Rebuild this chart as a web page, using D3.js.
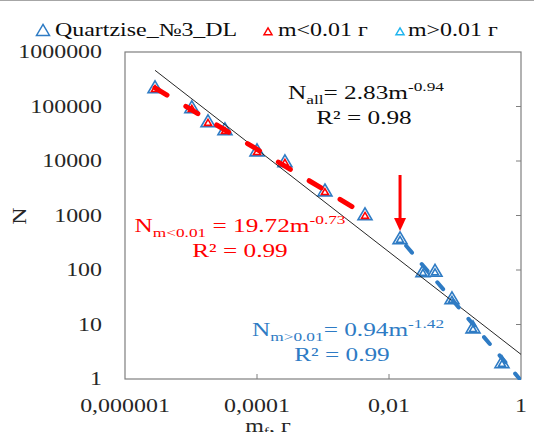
<!DOCTYPE html>
<html lang="en">
<head>
	<meta charset="utf-8">
	<title>Quartzise N vs m</title>
	<script src="https://cdn.jsdelivr.net/npm/d3@7"></script>
	<style>
		body { margin: 0; background: #fff; }
		text { font-family: "Liberation Serif", "Times New Roman", serif; }
	</style>
</head>
<body>
	<script>
	// data
	var massAll = [2.85e-6, 1.03e-5, 1.81e-5, 3.27e-5, 1.0e-4, 2.65e-4, 1.07e-3, 4.33e-3,
		0.0147, 0.0327, 0.0498, 0.090, 0.1875, 0.515];
	var countAll = [218000, 93800, 52000, 37000, 15200, 9600, 2800, 1020,
		371, 92, 94, 29.4, 8.6, 1.97];
	var massSmall = massAll.slice(0, 8);   // m < 0.01
	var countSmall = countAll.slice(0, 8);
	var massBig = massAll.slice(8);        // m > 0.01
	var countBig = countAll.slice(8);

	// power fits N = a * m^b
	var fitAll = [2.83, -0.94];
	var fitSmall = [19.72, -0.73];
	var fitBig = [0.94, -1.42];

	var xTicks = [1e-6, 1e-4, 1e-2, 1];
	var xTickLabels = ["0,000001", "0,0001", "0,01", "1"];
	var yTicks = [1, 10, 100, 1000, 10000, 100000, 1000000];
	var yTickLabels = ["1", "10", "100", "1000", "10000", "100000", "1000000"];

	var w = 534, h = 432;
	var pLeft = 125, pRight = 521, pTop = 52, pBottom = 379;
	var SX = 1.33; // text in the picture is stretched sideways

	var blue = "#2e7bc4", red = "#ff0000", light = "#1fb4ee";

	var svg = d3.select("body").append("svg")
		.attr("width", w).attr("height", h);

	var x = d3.scaleLog().domain([1e-6, 1]).range([pLeft, pRight]);
	var y = d3.scaleLog().domain([1, 1e6]).range([pBottom, pTop]);

	// helper: stretched text
	function label(parent, px, py, anchor) {
		return parent.append("g")
			.attr("transform", "translate(" + px + "," + py + ") scale(" + SX + ",1)")
			.append("text").attr("text-anchor", anchor || "start");
	}

	// outer chart border line
	svg.append("line").attr("x1", 0).attr("x2", w).attr("y1", 0.5).attr("y2", 0.5)
		.attr("stroke", "#a6a6a6");

	svg.append("clipPath").attr("id", "plot").append("rect")
		.attr("x", pLeft).attr("y", pTop).attr("width", pRight - pLeft).attr("height", pBottom - pTop + 1);

	// plot frame
	svg.append("rect")
		.attr("x", pLeft).attr("y", pTop).attr("width", pRight - pLeft).attr("height", pBottom - pTop)
		.attr("fill", "none").attr("stroke", "#7f7f7f").attr("stroke-width", 1.2);

	// x ticks (inside, bottom)
	svg.selectAll(".xt").data(xTicks.slice(1, 3)).enter().append("line")
		.attr("x1", function(d) { return x(d); }).attr("x2", function(d) { return x(d); })
		.attr("y1", pBottom).attr("y2", pBottom - 5)
		.attr("stroke", "#7f7f7f");

	// y ticks (inside, right)
	svg.selectAll(".yt").data(yTicks.slice(1, 6)).enter().append("line")
		.attr("x1", pRight).attr("x2", pRight - 5)
		.attr("y1", function(d) { return y(d); }).attr("y2", function(d) { return y(d); })
		.attr("stroke", "#7f7f7f");

	// tick labels
	xTicks.forEach(function(d, i) {
		label(svg, x(d), 412, "middle").attr("font-size", 18).attr("fill", "#262626").text(xTickLabels[i]);
	});
	yTicks.forEach(function(d, i) {
		label(svg, 102, y(d) + 6, "end").attr("font-size", 18).attr("fill", "#262626").text(yTickLabels[i]);
	});

	// axis titles
	svg.append("g").attr("transform", "translate(26,216) rotate(-90) scale(" + SX + ",1)")
		.append("text").attr("text-anchor", "middle").attr("font-size", 18).attr("fill", "#262626").text("N");
	var xt = label(svg, 268, 432, "middle").attr("font-size", 18).attr("fill", "#262626");
	xt.append("tspan").text("m");
	xt.append("tspan").attr("font-size", 12).attr("dy", 4).text("f");
	xt.append("tspan").attr("dy", -4).text(", г");

	// markers
	function tri(s) {
		var hh = s * 0.85;
		return "M0," + (-hh * 0.6) + "L" + (s / 2) + "," + (hh * 0.4) + "L" + (-s / 2) + "," + (hh * 0.4) + "Z";
	}
	var pts = massAll.map(function(m, i) { return { m: m, n: countAll[i] }; });
	var g = svg.append("g");
	g.selectAll(".outer").data(pts).enter().append("path")
		.attr("d", tri(14))
		.attr("transform", function(d) { return "translate(" + x(d.m) + "," + y(d.n) + ")"; })
		.attr("fill", "#fff").attr("stroke", blue).attr("stroke-width", 1.6);
	g.selectAll(".small").data(massSmall).enter().append("path")
		.attr("d", tri(7))
		.attr("transform", function(d, i) { return "translate(" + x(d) + "," + (y(countSmall[i]) + 1) + ")"; })
		.attr("fill", "#fff").attr("stroke", red).attr("stroke-width", 1.6);
	g.selectAll(".big").data(massBig).enter().append("path")
		.attr("d", tri(7))
		.attr("transform", function(d, i) { return "translate(" + x(d) + "," + (y(countBig[i]) + 1) + ")"; })
		.attr("fill", "#fff").attr("stroke", blue).attr("stroke-width", 1.6);

	// trend lines
	var line = d3.line().x(function(d) { return x(d[0]); }).y(function(d) { return y(d[1]); });
	function fitPts(f, m0, m1) {
		return [m0, m1].map(function(m) { return [m, f[0] * Math.pow(m, f[1])]; });
	}
	var lines = svg.append("g").attr("clip-path", "url(#plot)");
	lines.append("path").attr("d", line(fitPts(fitAll, massAll[0], 1)))
		.attr("fill", "none").attr("stroke", "#262626").attr("stroke-width", 1);
	lines.append("path").attr("d", line(fitPts(fitSmall, massSmall[0], massSmall[massSmall.length - 1])))
		.attr("fill", "none").attr("stroke", red).attr("stroke-width", 5)
		.attr("stroke-linecap", "round").attr("stroke-dasharray", "14,22");
	// drawn from the right end so a dash reaches the corner
	lines.append("path").attr("d", line(fitPts(fitBig, 1, massBig[0])))
		.attr("fill", "none").attr("stroke", blue).attr("stroke-width", 4)
		.attr("stroke-linecap", "round").attr("stroke-dasharray", "9,15");

	// red arrow pointing at the first m>0.01 point
	var ax = x(massBig[0]), tipY = y(countBig[0]) - 8;
	svg.append("line").attr("x1", ax).attr("x2", ax).attr("y1", tipY - 56).attr("y2", tipY - 10)
		.attr("stroke", red).attr("stroke-width", 3);
	svg.append("path")
		.attr("d", "M" + ax + "," + tipY + "l-6,-13h12z")
		.attr("fill", red);

	// equations
	function eq(px, py, color, sub, rest, sup, r2, rx) {
		var t = label(svg, px, py, "middle").attr("font-size", 19).attr("fill", color);
		t.append("tspan").text("N");
		t.append("tspan").attr("font-size", 13).attr("dy", 5).text(sub);
		t.append("tspan").attr("dy", -5).text(rest);
		t.append("tspan").attr("font-size", 13).attr("dy", -8).text(sup);
		label(svg, rx, py + 25, "middle").attr("font-size", 19).attr("fill", color).text(r2);
	}
	eq(366, 99, "#0d0d0d", "all", "= 2.83m", "-0.94", "R² = 0.98", 364);
	eq(240, 232, red, "m<0.01", " = 19.72m", "-0.73", "R² = 0.99", 240);
	eq(348, 336, blue, "m>0.01", "= 0.94m", "-1.42", "R² = 0.99", 342);

	// legend
	var leg = svg.append("g");
	leg.append("path").attr("d", tri(13)).attr("transform", "translate(43,31)")
		.attr("fill", "#fff").attr("stroke", blue).attr("stroke-width", 1.5);
	label(leg, 55, 36).attr("font-size", 18).attr("fill", "#0d0d0d").text("Quartzise_№3_DL");
	leg.append("path").attr("d", tri(8)).attr("transform", "translate(268,32)")
		.attr("fill", "#fff").attr("stroke", red).attr("stroke-width", 1.5);
	label(leg, 278, 36).attr("font-size", 18).attr("fill", "#0d0d0d").text("m<0.01 г");
	leg.append("path").attr("d", tri(8)).attr("transform", "translate(400,32)")
		.attr("fill", "#fff").attr("stroke", light).attr("stroke-width", 1.5);
	label(leg, 408, 36).attr("font-size", 18).attr("fill", "#0d0d0d").text("m>0.01 г");
	</script>
</body>
</html>
